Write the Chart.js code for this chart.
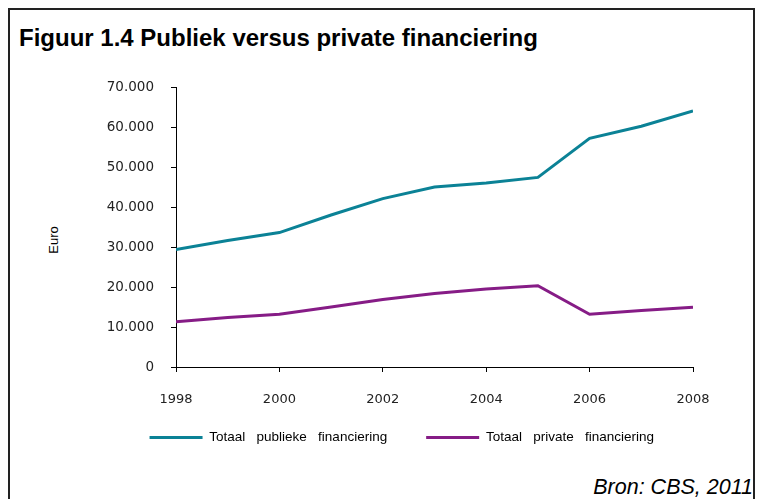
<!DOCTYPE html>
<html>
<head>
<meta charset="utf-8">
<script src="https://cdn.jsdelivr.net/npm/chart.js@4/dist/chart.umd.min.js"></script>
<style>
  body { margin: 0; background: #fff; }
  #wrap { position: relative; width: 760px; height: 499px; overflow: hidden; }
  #frame {
    position: absolute; left: 8px; top: 8px; width: 747px; height: 520px;
    border: 2px solid #222; border-bottom: none; box-sizing: border-box;
  }
  #title {
    position: absolute; left: 19px; top: 24px; margin: 0;
    font: bold 24px "Liberation Sans", Arial, sans-serif; color: #000; white-space: nowrap;
  }
  #ylabel {
    position: absolute; left: 53px; top: 240px;
    transform: translate(-50%, -50%) rotate(-90deg);
    font: 13px "Liberation Sans", Arial, sans-serif; color: #000;
  }
  #source {
    position: absolute; right: 7px; top: 475px;
    font: italic 21.5px "Liberation Sans", Arial, sans-serif; color: #000; white-space: nowrap;
  }
  canvas { position: absolute; left: 0; top: 0; }
</style>
</head>
<body>
<div id="wrap">
  <div id="frame"></div>
  <h1 id="title">Figuur 1.4 Publiek versus private financiering</h1>
  <div id="ylabel">Euro</div>
  <div id="source">Bron: CBS, 2011</div>
  <canvas id="chart" width="760" height="499"></canvas>
</div>
<script>
const years = [1998, 1999, 2000, 2001, 2002, 2003, 2004, 2005, 2006, 2007, 2008];
const publiek = [29400, 31600, 33600, 38000, 42100, 45000, 46000, 47400, 57150, 60200, 64000];
const privaat = [11300, 12400, 13200, 15000, 16900, 18400, 19500, 20300, 13200, 14100, 14950];
const seriesNames = ["Totaal   publieke   financiering", "Totaal   private   financiering"];
const seriesColors = ["#0b8296", "#861c86"];

// plot area edges (px)
const padLeft = 95;
const padRight = 67;
const plotLeft = 176;
const plotBottom = 367;

function dotThousands(v) {
  return String(v).replace(/\B(?=(\d{3})+(?!\d))/g, ".");
}

function toPoints(values) {
  return years.map((y, i) => ({ x: y, y: values[i] }));
}

// tick labels may sit outside the scale box, so don't clip them
function noLabelClip(scale) {
  scale._computeLabelArea = () => undefined;
}

const legendPad = 39;
const legendFont = 13.5;
const legendTop = 437.5 - legendPad - legendFont / 2;

const ctx = document.getElementById("chart").getContext("2d");

new Chart(ctx, {
  type: "line",
  data: {
    datasets: [
      {
        label: seriesNames[0],
        data: toPoints(publiek),
        borderColor: seriesColors[0],
        backgroundColor: seriesColors[0],
        borderWidth: 3,
        pointRadius: 0,
        tension: 0,
      },
      {
        label: seriesNames[1],
        data: toPoints(privaat),
        borderColor: seriesColors[1],
        backgroundColor: seriesColors[1],
        borderWidth: 3,
        pointRadius: 0,
        tension: 0,
      },
    ],
  },
  options: {
    responsive: false,
    animation: false,
    events: [],
    layout: {
      padding: {
        left: padLeft,
        right: padRight,
        top: 87,
        bottom: 499 - legendTop - (legendFont + legendPad + 10),
      },
    },
    scales: {
      x: {
        type: "linear",
        min: 1998,
        max: 2008,
        afterFit: (scale) => {
          scale.height = legendTop - plotBottom;
          noLabelClip(scale);
        },
        ticks: {
          stepSize: 2,
          padding: 20,
          color: "#222",
          font: { family: "DejaVu Sans", size: 13 },
          callback: (v) => String(v),
        },
        grid: { drawOnChartArea: false, drawTicks: true, tickLength: 5, color: "#000" },
        border: { color: "#000", width: 1 },
      },
      y: {
        min: 0,
        max: 70000,
        afterFit: (scale) => {
          scale.width = plotLeft - padLeft;
          noLabelClip(scale);
        },
        ticks: {
          stepSize: 10000,
          padding: 17,
          color: "#222",
          font: { family: "DejaVu Sans", size: 13.5 },
          callback: (v) => dotThousands(v),
        },
        grid: { drawOnChartArea: false, drawTicks: true, tickLength: 5, color: "#000" },
        border: { color: "#000", width: 1 },
      },
    },
    plugins: {
      tooltip: { enabled: false },
      legend: {
        position: "bottom",
        align: "end",
        labels: {
          boxWidth: 53,
          boxHeight: 3,
          padding: legendPad,
          color: "#000",
          font: { family: "Liberation Sans", size: legendFont },
          generateLabels: (chart) =>
            Chart.defaults.plugins.legend.labels
              .generateLabels(chart)
              .map((item) => ({ ...item, lineWidth: 0 })),
        },
      },
    },
  },
});
</script>
</body>
</html>
